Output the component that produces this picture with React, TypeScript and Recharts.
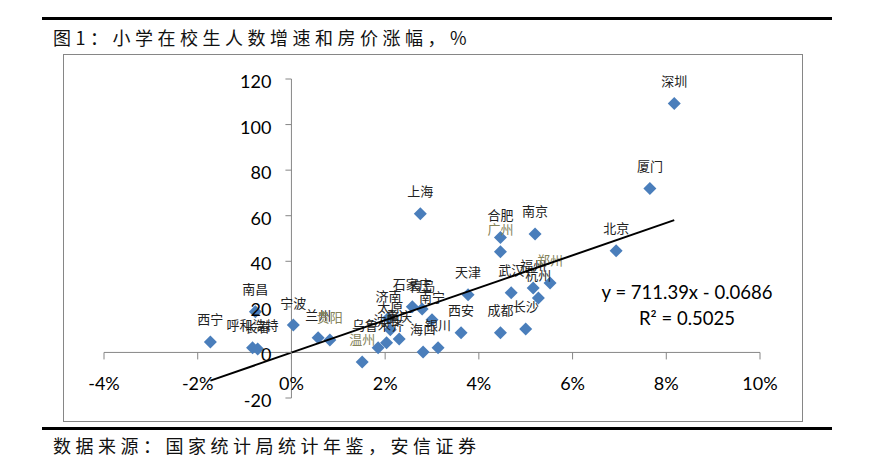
import React from 'react';
import { ScatterChart, Scatter, XAxis, YAxis, ReferenceLine } from 'recharts';

// 城市 / 小学在校生人数增速 (x) / 房价涨幅 % (y)
const cities = [
  '深圳', '厦门', '上海', '合肥', '广州', '南京', '北京', '天津', '武汉', '福州', '杭州',
  '郑州', '长沙', '成都', '西安', '西宁', '南昌', '呼和浩特', '长春', '宁波', '兰州', '贵阳',
  '石家庄', '青岛', '南宁', '济南', '太原', '沈阳', '重庆', '乌鲁木齐', '温州', '海口', '银川',
];
const enrolGrowth = [
  0.0817, 0.0765, 0.0275, 0.0446, 0.0446, 0.052, 0.0693, 0.0377, 0.0469, 0.0516, 0.0527,
  0.0552, 0.05, 0.0446, 0.0362, -0.0173, -0.0077, -0.0083, -0.0072, 0.0004, 0.0057, 0.0082,
  0.0258, 0.0279, 0.03, 0.0207, 0.0211, 0.0203, 0.023, 0.0185, 0.0151, 0.0281, 0.0313,
];
const priceGrowth = [
  109.2, 71.9, 60.9, 50.4, 44.2, 52.0, 44.6, 25.3, 26.2, 28.3, 23.9,
  30.5, 10.3, 8.6, 8.6, 4.6, 17.8, 2.0, 1.5, 12.0, 6.4, 5.5,
  20.0, 19.1, 14.3, 15.1, 9.9, 4.2, 5.9, 2.0, -4.2, 0.2, 2.0,
];

const xTicks = [-0.04, -0.02, 0, 0.02, 0.04, 0.06, 0.08, 0.1];
const yTicks = [-20, 0, 20, 40, 60, 80, 100, 120];

// Excel 线性趋势线
const TREND_SLOPE = 711.39;
const TREND_INTERCEPT = -0.0686;

const points = cities.map((name, i) => ({ name, x: enrolGrowth[i], y: priceGrowth[i] }));
const xLo = Math.min(...enrolGrowth);
const xHi = Math.max(...enrolGrowth);
const trend = [xLo, xHi].map((x) => ({ x, y: TREND_SLOPE * x + TREND_INTERCEPT }));

const X_MIN = -0.04;
const X_MAX = 0.1;
const Y_MIN = -20;
const Y_MAX = 120;

const CHART_W = 877;
const CHART_H = 470;
const X_AXIS_H = 30;
const Y_AXIS_W = 60;
// plot area: x 104..760, y 79..398
const M = { top: 79, right: 117, bottom: 72 - X_AXIS_H, left: 104 - Y_AXIS_W };
const plotLeft = 104;
const plotTop = 79;
const plotW = 656;
const plotH = 319;
const zeroX = plotLeft + (plotW * (0 - X_MIN)) / (X_MAX - X_MIN);
const zeroY = plotTop + (plotH * (Y_MAX - 0)) / (Y_MAX - Y_MIN);

const AXIS = '#868686';
const MARKER = '#4a7ebb';
const olive = new Set(['广州', '郑州', '温州', '贵阳']);
const numFont = "Lato, 'Liberation Sans', sans-serif";
const cjkFont = "'Noto Sans CJK SC', sans-serif";

const XTick = ({ x, payload }: any) => (
  <g>
    <line x1={x} x2={x} y1={zeroY} y2={zeroY + 7} stroke={AXIS} />
    <text x={x} y={zeroY + 31} textAnchor="middle" dominantBaseline="central"
      fontFamily={numFont} fontSize={18} fill="#000">
      {`${Math.round(payload.value * 100)}%`}
    </text>
  </g>
);

const YTick = ({ y, payload }: any) => (
  <g>
    <line x1={zeroX - 6} x2={zeroX} y1={y} y2={y} stroke={AXIS} />
    <text x={zeroX - 20} y={y + 2} textAnchor="end" dominantBaseline="central"
      fontFamily={numFont} fontSize={18} fill="#000">
      {payload.value}
    </text>
  </g>
);

const Diamond = ({ cx, cy }: any) => (
  <polygon
    points={`${cx},${cy - 6.5} ${cx + 6.5},${cy} ${cx},${cy + 6.5} ${cx - 6.5},${cy}`}
    fill={MARKER}
  />
);

const CityLabel = (p: any) => {
  const name = p.payload?.name ?? p.name;
  return (
    <text x={p.cx} y={p.cy - 23} textAnchor="middle" dominantBaseline="central"
      fontFamily={cjkFont} fontSize={13} fill={olive.has(name) ? '#85835a' : '#222'}>
      {name}
    </text>
  );
};

const textRow: React.CSSProperties = {
  position: 'absolute',
  left: 53,
  fontFamily: cjkFont,
  fontSize: 18,
  letterSpacing: 4.5,
  lineHeight: '24px',
  color: '#111',
  whiteSpace: 'nowrap',
};

export default function App() {
  return (
    <div style={{ position: 'absolute', left: 0, top: 0, width: CHART_W, height: CHART_H, background: '#fff', overflow: 'hidden' }}>
      <div style={{ position: 'absolute', left: 42, top: 17, width: 790, height: 3, background: '#000' }} />
      <div style={{ ...textRow, top: 25 }}>图1：小学在校生人数增速和房价涨幅，%</div>
      <div style={{ position: 'absolute', left: 63, top: 54, width: 740, height: 368, border: `1px solid ${AXIS}`, boxSizing: 'border-box' }} />
      <div style={{ position: 'absolute', left: 42, top: 427, width: 790, height: 3, background: '#000' }} />
      <div style={{ ...textRow, top: 433 }}>数据来源：国家统计局统计年鉴，安信证券</div>

      <div style={{ position: 'absolute', left: 0, top: 0 }}>
        <ScatterChart width={CHART_W} height={CHART_H} margin={M}>
          <XAxis type="number" dataKey="x" domain={[X_MIN, X_MAX]} ticks={xTicks} interval={0}
            height={X_AXIS_H} axisLine={false} tickLine={false} tick={XTick} />
          <YAxis type="number" dataKey="y" domain={[Y_MIN, Y_MAX]} ticks={yTicks} interval={0}
            width={Y_AXIS_W} axisLine={false} tickLine={false} tick={YTick} />
          <ReferenceLine y={0} stroke={AXIS} />
          <ReferenceLine x={0} stroke={AXIS} />
          <Scatter data={points} shape={Diamond} isAnimationActive={false} />
          <Scatter data={points} shape={CityLabel} isAnimationActive={false} />
          <Scatter data={trend} shape={() => <g />} line={{ stroke: '#000', strokeWidth: 2 }}
            isAnimationActive={false} />
        </ScatterChart>
      </div>

      <div style={{ position: 'absolute', left: 587, top: 279, width: 200, textAlign: 'center', fontFamily: numFont, fontSize: 18.5, lineHeight: '26px', color: '#000' }}>
        y = 711.39x - 0.0686<br />R² = 0.5025
      </div>
    </div>
  );
}
